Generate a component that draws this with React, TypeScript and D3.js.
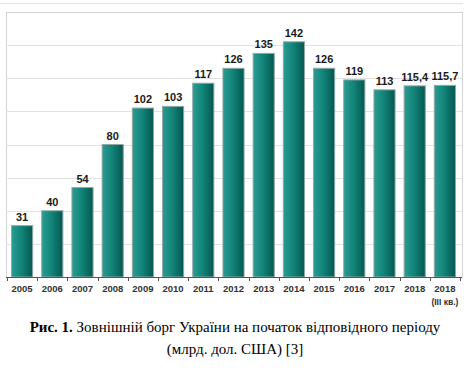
import * as d3 from "d3";
import { useEffect, useRef } from "react";

const years = ["2005", "2006", "2007", "2008", "2009", "2010", "2011", "2012", "2013", "2014", "2015", "2016", "2017", "2018", "2018"];
const subLabels = ["", "", "", "", "", "", "", "", "", "", "", "", "", "", "(III кв.)"];
const debt = [31, 40, 54, 80, 102, 103, 117, 126, 135, 142, 126, 119, 113, 115.4, 115.7];
const gridTicks = [0, 20, 40, 60, 80, 100, 120, 140, 160];

const App = () => {
    const ref = useRef<SVGSVGElement>(null);

    useEffect(() => {
        const svg = d3.select(ref.current);
        svg.selectAll("*").remove();

        const left = 6, right = 462, top = 12, bottom = 277;

        const x = d3.scaleBand<number>().domain(d3.range(debt.length)).range([left + 1, right - 2]).paddingInner(0.3).paddingOuter(0.15);
        const y = d3.scaleLinear().domain([0, 160]).range([bottom, top]);

        const defs = svg.append("defs");
        const grad = defs.append("linearGradient").attr("id", "barGrad").attr("x1", "0").attr("x2", "1").attr("y1", "0").attr("y2", "0");
        grad.append("stop").attr("offset", "0%").attr("stop-color", "#2a9c91");
        grad.append("stop").attr("offset", "45%").attr("stop-color", "#12857a");
        grad.append("stop").attr("offset", "100%").attr("stop-color", "#05574f");

        // faint outer line at top
        svg.append("line").attr("x1", 0).attr("x2", 463).attr("y1", 3.5).attr("y2", 3.5).attr("stroke", "#e3e3e3");

        // frame
        svg.append("rect").attr("x", left + 0.5).attr("y", top + 0.5).attr("width", right - left).attr("height", bottom - top)
            .attr("fill", "none").attr("stroke", "#d4d4d4");

        // gridlines
        svg.append("g").selectAll("line").data(gridTicks.slice(1, -1)).join("line")
            .attr("x1", left).attr("x2", right)
            .attr("y1", (d) => Math.round(y(d)) + 0.5).attr("y2", (d) => Math.round(y(d)) + 0.5)
            .attr("stroke", "#e2e2e2");

        // bars
        svg.append("g").selectAll("rect").data(debt).join("rect")
            .attr("x", (d, i) => x(i)!)
            .attr("y", (d) => y(d))
            .attr("width", x.bandwidth())
            .attr("height", (d) => bottom - y(d))
            .attr("fill", "url(#barGrad)")
            .attr("stroke", "#8fa8a5")
            .attr("stroke-width", 1);

        // value labels
        svg.append("g").selectAll("text").data(debt).join("text")
            .attr("x", (d, i) => x(i)! + x.bandwidth() / 2)
            .attr("y", (d) => y(d) - 5)
            .attr("text-anchor", "middle")
            .attr("font-family", "Liberation Sans, Arial, sans-serif")
            .attr("font-weight", "bold")
            .attr("font-size", 11)
            .attr("fill", "#1a1a1a")
            .text((d) => (Number.isInteger(d) ? String(d) : d3.format(".1f")(d).replace(".", ",")));

        // baseline + ticks
        svg.append("line").attr("x1", left).attr("x2", right).attr("y1", bottom + 0.5).attr("y2", bottom + 0.5).attr("stroke", "#555");
        const step = x.step();
        svg.append("g").selectAll("line").data(d3.range(debt.length + 1)).join("line")
            .attr("x1", (i) => Math.round((i === 0 ? x(0)! : x(i - 1)! + x.bandwidth()) + (i === 0 ? -step * 0.15 : step * 0.15)) + 0.5)
            .attr("x2", (i) => Math.round((i === 0 ? x(0)! : x(i - 1)! + x.bandwidth()) + (i === 0 ? -step * 0.15 : step * 0.15)) + 0.5)
            .attr("y1", bottom).attr("y2", bottom + 4)
            .attr("stroke", "#555");

        // category labels
        const cat = svg.append("g").attr("font-family", "Liberation Sans, Arial, sans-serif").attr("font-weight", "bold").attr("fill", "#333");
        cat.selectAll("text.year").data(years).join("text")
            .attr("class", "year")
            .attr("x", (d, i) => x(i)! + x.bandwidth() / 2)
            .attr("y", 292)
            .attr("text-anchor", "middle")
            .attr("font-size", 9.5)
            .text((d) => d);
        cat.selectAll("text.sub").data(subLabels).join("text")
            .attr("class", "sub")
            .attr("x", (d, i) => x(i)! + x.bandwidth() / 2)
            .attr("y", 305)
            .attr("text-anchor", "middle")
            .attr("font-size", 8.5)
            .text((d) => d);

        // caption
        const cap = svg.append("g").attr("font-family", "Liberation Serif, Times New Roman, serif").attr("font-size", 15).attr("fill", "#000");
        const line1 = cap.append("text").attr("x", 235).attr("y", 332).attr("text-anchor", "middle");
        line1.append("tspan").attr("font-weight", "bold").text("Рис. 1.");
        line1.append("tspan").text(" Зовнішній борг України на початок відповідного періоду");
        cap.append("text").attr("x", 235).attr("y", 354).attr("text-anchor", "middle").text("(млрд. дол. США) [3]");
    }, []);

    return (
        <svg ref={ref} width={470} height={370} style={{ position: "absolute", left: 0, top: 0, background: "#fff" }}></svg>
    );
};

export default App;
